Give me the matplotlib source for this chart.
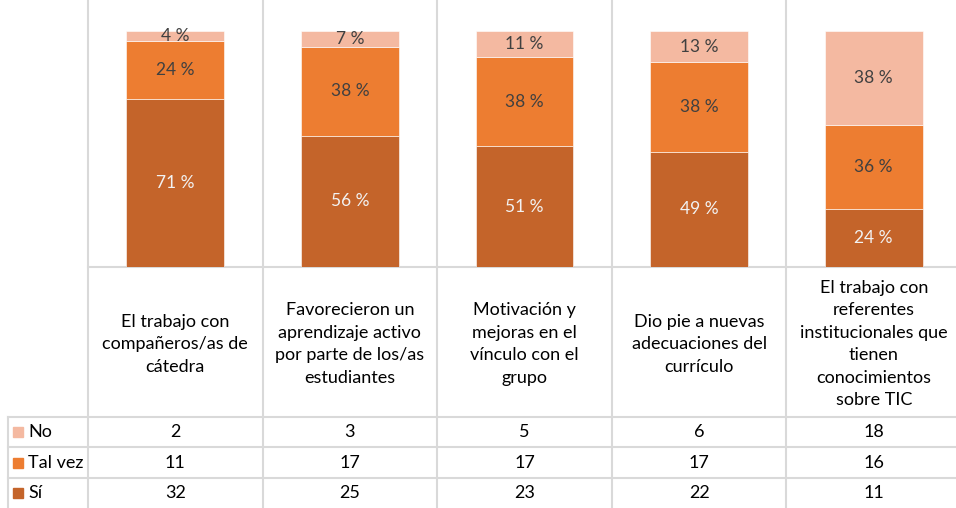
import matplotlib.pyplot as plt
import matplotlib.transforms as mtransforms
from matplotlib.patches import Rectangle

plt.rcParams["font.family"] = ["Lato", "DejaVu Sans"]

categories = [
    "El trabajo con\ncompañeros/as de\ncátedra",
    "Favorecieron un\naprendizaje activo\npor parte de los/as\nestudiantes",
    "Motivación y\nmejoras en el\nvínculo con el\ngrupo",
    "Dio pie a nuevas\nadecuaciones del\ncurrículo",
    "El trabajo con\nreferentes\ninstitucionales que\ntienen\nconocimientos\nsobre TIC",
]
series_names = ["No", "Tal vez", "Sí"]
no_counts = [2, 3, 5, 6, 18]
talvez_counts = [11, 17, 17, 17, 16]
si_counts = [32, 25, 23, 22, 11]
# percentage labels as printed on the bars
no_labels = ["4 %", "7 %", "11 %", "13 %", "38 %"]
talvez_labels = ["24 %", "38 %", "38 %", "38 %", "36 %"]
si_labels = ["71 %", "56 %", "51 %", "49 %", "24 %"]

colors = {"Sí": "#C4642A", "Tal vez": "#ED7D31", "No": "#F4B9A1"}
label_colors = {"Sí": "#F2F2F2", "Tal vez": "#404040", "No": "#404040"}

GRID = "#D9D9D9"
W, H = 956, 508

fig = plt.figure(figsize=(W / 100, H / 100), dpi=100)

# overlay axes in pixel coordinates for the table
over = fig.add_axes([0, 0, 1, 1])
over.set_xlim(0, W)
over.set_ylim(H, 0)
over.axis("off")

# bar axes: 0% at y=267 px, 100% at y=31 px
left, right = 88, 961
y0, y100 = 267, 31
ax = fig.add_axes([left / W, (H - y0) / H, (right - left) / W, y0 / H])
ax.set_xlim(-0.5, len(categories) - 0.5)
ax.set_ylim(0, y0 / (y0 - y100))
ax.axis("off")

x = list(range(len(categories)))
totals = [a + b + c for a, b, c in zip(no_counts, talvez_counts, si_counts)]
counts = {"No": no_counts, "Tal vez": talvez_counts, "Sí": si_counts}
labels = {"No": no_labels, "Tal vez": talvez_labels, "Sí": si_labels}
bottom = [0] * len(x)
for name in ["Sí", "Tal vez", "No"]:
    frac = [c / t for c, t in zip(counts[name], totals)]
    ax.bar(x, frac, width=0.56, bottom=bottom, color=colors[name],
           edgecolor="white", linewidth=0.4)
    for xi, b, f, lab in zip(x, bottom, frac, labels[name]):
        ax.text(xi, b + f / 2, lab, ha="center", va="center",
                fontsize=12.5, color=label_colors[name])
    bottom = [b + f for b, f in zip(bottom, frac)]

blend = mtransforms.blended_transform_factory(ax.transData, over.transData)

# grid lines
for xb in [-0.5, 0.5, 1.5, 2.5, 3.5]:
    over.plot([xb, xb], [0, H], transform=blend, color=GRID, lw=1.5,
              clip_on=False)
over.plot([left, W], [y0, y0], color=GRID, lw=1.5)
row_lines = [417, 447, 478, 508]
for yl in row_lines[:-1]:
    over.plot([8, W], [yl, yl], color=GRID, lw=1.5)
over.plot([8, 8], [row_lines[0], H], color=GRID, lw=1.5)

# category labels
for xi, cat in zip(x, categories):
    over.text(xi, (y0 + row_lines[0]) / 2 + 2, cat, transform=blend,
              ha="center", va="center", fontsize=13, color="black",
              linespacing=1.5)

# data rows
for r, name in enumerate(series_names):
    yc = (row_lines[r] + row_lines[r + 1]) / 2
    over.add_patch(Rectangle((13, yc - 5), 10, 10, color=colors[name]))
    over.text(28, yc, name, ha="left", va="center", fontsize=13,
              color="black")
    for xi, v in zip(x, counts[name]):
        over.text(xi, yc, str(v), transform=blend, ha="center",
                  va="center", fontsize=13, color="black")

fig.savefig("out.png", dpi=100)
